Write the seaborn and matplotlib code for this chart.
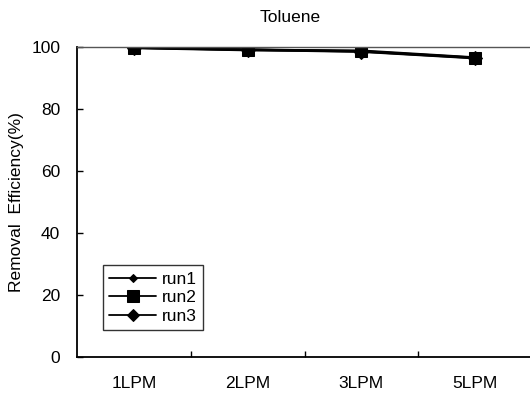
import matplotlib
matplotlib.use("Agg")
import matplotlib.pyplot as plt
import seaborn as sns
import pandas as pd
from matplotlib.ticker import FixedLocator

categories = ["1LPM", "2LPM", "3LPM", "5LPM"]
run1 = [99.8, 99.2, 98.6, 96.5]
run2 = [99.7, 99.0, 98.8, 96.6]
run3 = [99.8, 99.1, 98.5, 96.4]
yticks = [0, 20, 40, 60, 80, 100]

df = pd.DataFrame({
    "flow": categories * 3,
    "eff": run1 + run2 + run3,
    "run": ["run1"] * 4 + ["run2"] * 4 + ["run3"] * 4,
})

sns.set_theme(style="white")
plt.rcParams["font.family"] = ["Liberation Sans", "DejaVu Sans"]

FS = 12.5
fig = plt.figure(figsize=(5.30, 3.95), dpi=100)
ax = fig.add_axes([77 / 530, 38 / 395, 455 / 530, 310 / 395])

sns.lineplot(data=df, x="flow", y="eff", hue="run", style="run",
             palette=["black", "black", "black"],
             markers={"run1": "D", "run2": "s", "run3": "D"},
             dashes=False, linewidth=1.8, markersize=8.5, ax=ax,
             markeredgecolor="black", sort=False, legend=True)
for line, ms in zip(ax.get_lines()[:3], [5, 9, 7]):
    line.set_markersize(ms)

ax.set_xlim(-0.5, 3.5)
ax.set_ylim(0, 100)
ax.set_yticks(yticks)
ax.set_yticklabels([str(v) for v in yticks])
ax.set_xticks(range(len(categories)))
ax.set_xticklabels(categories)
ax.xaxis.set_minor_locator(FixedLocator([0.5, 1.5, 2.5]))
ax.tick_params(axis="x", which="major", length=0, pad=14, labelsize=FS, colors="black")
ax.tick_params(axis="x", which="minor", direction="in", length=4, width=1, color="black", bottom=True)
ax.tick_params(axis="y", direction="in", length=4, width=1, color="black", pad=12,
               labelsize=FS, left=True, labelcolor="black")
ax.set_xlabel("")
ax.set_ylabel("Removal  Efficiency(%)", fontsize=FS, color="black", labelpad=5)

for s in ["left", "bottom"]:
    ax.spines[s].set_color("black")
    ax.spines[s].set_linewidth(1.3)
ax.spines["top"].set_color("#555555")
ax.spines["top"].set_linewidth(1.0)
ax.spines["right"].set_visible(False)

fig.text(290 / 530, 1 - 17 / 395, "Toluene", ha="center", va="center", fontsize=FS, color="black")

leg = ax.legend(loc="lower left", bbox_to_anchor=(26 / 455, 27 / 310), frameon=True,
                fontsize=FS, handlelength=2.7, handletextpad=0.35, borderpad=0.35,
                labelspacing=0.2, fancybox=False, title=None, borderaxespad=0)
leg.get_frame().set_edgecolor("black")
leg.get_frame().set_linewidth(1.0)
for t in leg.get_texts():
    t.set_color("black")
for h, ms in zip(leg.legend_handles, [4.5, 8, 6.5]):
    h.set_markersize(ms)
    h.set_linewidth(1.3)

fig.savefig("out.png", dpi=100)
